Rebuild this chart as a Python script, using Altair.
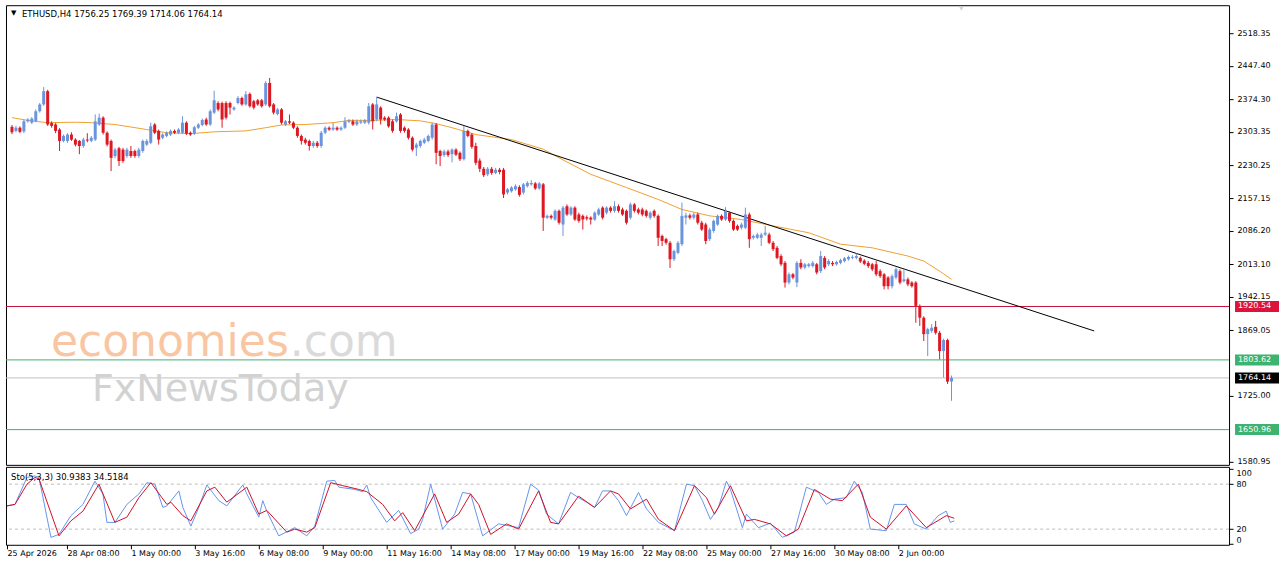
import altair as alt
import pandas as pd

# ---------------- data ----------------
opens = [
 2314,2305,2312,2304,2326,2323,2326,2348,2363,2392,
 2322,2319,2308,2283,2283,2297,2286,2283,2272,2286,
 2283,2286,2319,2334,2301,2283,2250,2267,2264,2250,
 2261,2261,2250,2261,2275,2279,2319,2305,2290,2294,
 2297,2305,2301,2301,2323,2301,2299,2312,2318,2330,
 2319,2345,2366,2366,2366,2366,2352,2366,2377,2363,
 2386,2370,2372,2372,2363,2410,2363,2342,2352,2319,
 2326,2323,2312,2294,2286,2283,2272,2279,2272,2301,
 2312,2308,2312,2308,2312,2325,2326,2319,2323,2323,
 2323,2363,2330,2356,2334,2334,2326,2326,2341,2312,
 2308,2290,2268,2272,2279,2283,2290,2319,2261,2252,
 2260,2254,2264,2257,2243,2305,2297,2272,2240,2222,
 2210,2222,2213,2220,2220,2170,2173,2177,2182,2170,
 2184,2188,2190,2179,2188,2115,2119,2111,2130,2100,
 2140,2122,2137,2122,2119,2116,2115,2111,2122,2137,
 2126,2137,2130,2140,2133,2130,2115,2144,2133,2133,
 2130,2115,2130,2119,2075,2068,2060,2024,2038,2057,
 2115,2120,2115,2122,2104,2100,2068,2086,2100,2119,
 2111,2126,2108,2097,2093,2093,2122,2071,2071,2071,
 2078,2078,2060,2049,2031,2016,1973,1991,1973,2016,
 2006,2009,2009,2013,1998,2027,2013,2016,2013,2016,
 2020,2024,2027,2027,2027,2021,2016,2013,2013,1998,
 1991,1984,1965,1984,1998,1976,1980,1973,1973,1922,
 1896,1860,1867,1876,1863,1823,1847,1756.25]
highs = [
 2318,2316,2315,2330,2333,2335,2352,2366,2401,2395,
 2326,2322,2311,2297,2300,2302,2289,2285,2290,2300,
 2294,2341,2343,2337,2304,2286,2268,2270,2268,2268,
 2272,2264,2268,2286,2287,2323,2322,2308,2300,2304,
 2308,2308,2311,2337,2326,2304,2316,2322,2332,2334,
 2352,2393,2370,2369,2370,2369,2359,2381,2380,2392,
 2389,2373,2375,2375,2414,2421,2366,2355,2355,2329,
 2341,2326,2315,2297,2290,2286,2283,2283,2305,2315,
 2315,2323,2315,2315,2335,2331,2330,2330,2330,2331,
 2366,2366,2379,2359,2337,2337,2330,2345,2344,2315,
 2311,2293,2279,2286,2290,2297,2323,2322,2264,2264,
 2264,2267,2267,2260,2316,2308,2300,2279,2245,2226,
 2226,2226,2224,2224,2224,2180,2184,2188,2186,2191,
 2195,2197,2193,2193,2191,2122,2122,2133,2133,2141,
 2144,2140,2140,2126,2122,2120,2118,2129,2137,2140,
 2140,2140,2151,2144,2137,2133,2148,2147,2137,2137,
 2133,2129,2133,2122,2078,2071,2064,2045,2064,2148,
 2126,2124,2126,2126,2108,2104,2093,2111,2122,2122,
 2138,2129,2111,2100,2104,2137,2126,2078,2082,2082,
 2097,2082,2064,2053,2035,2020,1995,1994,2020,2024,
 2016,2016,2020,2016,2042,2031,2024,2020,2021,2025,
 2029,2032,2033,2037,2030,2024,2020,2016,2020,2002,
 1994,1987,1991,2006,2002,2002,1984,1976,1976,1925,
 1899,1874,1882,1889,1867,1850,1850,1769.39]
lows = [
 2298,2302,2300,2300,2323,2320,2324,2345,2360,2316,
 2312,2300,2261,2280,2279,2283,2271,2254,2268,2280,
 2280,2283,2316,2297,2271,2217,2245,2228,2235,2246,
 2246,2246,2246,2257,2272,2276,2298,2275,2287,2291,
 2294,2298,2298,2298,2296,2294,2296,2309,2315,2316,
 2316,2342,2348,2312,2330,2341,2349,2363,2360,2360,
 2356,2352,2360,2356,2360,2356,2341,2339,2319,2316,
 2320,2309,2290,2275,2275,2262,2268,2268,2268,2298,
 2305,2305,2305,2305,2309,2322,2316,2316,2320,2320,
 2319,2308,2326,2319,2327,2312,2301,2323,2301,2301,
 2286,2260,2250,2268,2276,2280,2286,2232,2228,2248,
 2248,2236,2250,2239,2240,2291,2266,2230,2215,2204,
 2206,2209,2210,2210,2158,2166,2170,2174,2161,2166,
 2181,2185,2176,2176,2086,2112,2111,2108,2100,2075,
 2119,2119,2108,2104,2089,2109,2100,2108,2119,2111,
 2122,2126,2126,2126,2119,2100,2111,2126,2122,2118,
 2115,2111,2115,2053,2053,2056,2005,2020,2035,2053,
 2100,2111,2111,2100,2086,2057,2064,2082,2097,2108,
 2108,2104,2086,2086,2089,2090,2049,2067,2068,2053,
 2075,2057,2042,2024,2009,1962,1969,1980,1963,2002,
 2002,2006,2006,1991,1994,2002,2009,2009,2010,2013,
 2017,2021,2024,2024,2016,2011,2005,1998,1987,1983,
 1958,1958,1960,1980,1969,1973,1965,1962,1885,1878,
 1845,1812,1863,1859,1805,1765,1751,1714.06]
closes = [
 2302,2312,2303,2326,2330,2332,2348,2363,2392,2319,
 2316,2305,2283,2294,2297,2286,2275,2272,2286,2284,
 2290,2326,2334,2301,2275,2246,2264,2239,2239,2264,
 2250,2250,2264,2283,2283,2315,2301,2286,2297,2301,
 2305,2301,2308,2323,2299,2297,2313,2319,2329,2319,
 2348,2372,2352,2330,2334,2356,2356,2377,2363,2385,
 2359,2356,2363,2359,2410,2359,2345,2352,2323,2326,
 2323,2312,2294,2283,2279,2272,2279,2272,2301,2312,
 2308,2312,2308,2312,2326,2328,2319,2326,2326,2328,
 2359,2326,2363,2330,2330,2315,2305,2337,2305,2305,
 2290,2264,2275,2283,2286,2294,2319,2257,2250,2260,
 2252,2264,2253,2243,2305,2294,2270,2235,2222,2208,
 2222,2213,2220,2215,2166,2177,2181,2184,2165,2188,
 2191,2191,2179,2190,2115,2119,2115,2130,2104,2137,
 2122,2137,2111,2108,2111,2113,2111,2126,2133,2115,
 2137,2130,2140,2130,2122,2104,2144,2130,2126,2122,
 2119,2126,2119,2071,2064,2060,2024,2042,2060,2119,
 2120,2115,2122,2104,2089,2064,2089,2108,2119,2111,
 2130,2108,2089,2089,2100,2122,2068,2075,2078,2078,
 2082,2060,2046,2027,2013,1973,1991,1984,2016,2006,
 2013,2013,2016,1995,2031,2006,2020,2013,2018,2022,
 2026,2029,2029,2031,2019,2014,2009,2002,1991,1987,
 1965,1965,1987,2002,1973,1980,1969,1965,1922,1896,
 1860,1871,1874,1863,1823,1847,1756,1764.14]

# 50-period moving average, read at points along the orange line
ma_idx = [0, 4, 9, 16, 20, 26, 34, 39, 45, 51, 59, 64, 68, 74, 81, 85, 91, 97, 103,
          107, 111, 117, 126, 134, 138, 146, 155, 163, 169, 176, 184, 192, 201, 209,
          217, 226, 230, 234, 237]
ma_val = [2334, 2328, 2323, 2324, 2323, 2319, 2308, 2301, 2299, 2303, 2305, 2312, 2318,
          2319, 2323, 2328, 2328, 2330, 2327, 2321, 2312, 2297, 2286, 2265, 2246, 2210,
          2181, 2155, 2133, 2119, 2111, 2097, 2082, 2057, 2049, 2031, 2020, 1998, 1980]

# Stochastic (5,3,3): %K (blue) and %D (red), read at turning points
k_idx = [0, 2, 5, 7, 8, 11, 13, 16, 19, 22, 24, 25, 27, 30, 33, 35, 37, 39, 40, 43, 44,
         46, 48, 50, 53, 55, 59, 60, 63, 64, 65, 68, 72, 75, 77, 80, 82, 83, 87, 89, 90,
         91, 95, 98, 101, 103, 104, 106, 109, 112, 114, 116, 119, 123, 128, 131, 133,
         135, 138, 141, 143, 145, 147, 149, 151, 153, 155, 158, 160, 163, 167, 170, 172,
         174, 176, 178, 180, 181, 184, 185, 188, 191, 194, 197, 200, 203, 205, 207, 210,
         212, 214, 216, 220, 222, 225, 227, 230, 233, 235, 236, 237]
k_val = [51, 53, 89, 91, 89, 9, 13, 38, 53, 84, 67, 29, 29, 53, 67, 82, 80, 49, 51, 71, 49,
         24, 49, 79, 58, 51, 79, 67, 36, 58, 44, 11, 22, 11, 24, 84, 85, 76, 73, 70, 79,
         62, 29, 45, 14, 20, 33, 80, 20, 40, 69, 67, 11, 27, 22, 80, 72,
         40, 27, 69, 62, 56, 49, 71, 71, 58, 38, 69, 47, 29, 18, 80, 78,
         58, 33, 49, 84, 73, 22, 40, 22, 28, 9, 16, 76, 69, 53, 60, 62,
         84, 69, 20, 18, 53, 53, 27, 20, 38, 44, 29, 30.9383]
d_idx = [0, 2, 5, 7, 8, 13, 16, 19, 23, 27, 30, 33, 36, 40, 41, 44, 46, 50, 52, 55, 60,
         63, 65, 70, 72, 75, 77, 81, 84, 88, 90, 94, 97, 99, 102, 107, 110, 113, 116, 118,
         121, 125, 128, 133, 136, 138, 143, 147, 151, 153, 156, 160, 163, 167, 172, 175,
         177, 181, 185, 187, 191, 195, 198, 202, 206, 209, 213, 216, 220, 225, 230, 235,
         237]
d_val = [51, 53, 80, 89, 87, 11, 31, 44, 80, 29, 36, 62, 82, 53, 56, 38, 31, 71, 76, 56, 76,
         40, 45, 16, 20, 16, 22, 82, 78, 73, 70, 53, 31, 42, 18, 67, 29, 40, 67, 53,
         13, 27, 20, 71, 29, 27, 64, 49, 71, 67, 47, 60, 33, 18, 78, 62,
         40, 78, 31, 33, 27, 11, 20, 73, 60, 58, 80, 36, 20, 51, 22, 38,
         34.5184]

trend_idx = [92, 273]
trend_val = [2379, 1867]

level_vals = [1920.54, 1803.62, 1764.14, 1650.96]
level_line_colors = ["#C8143C", "#3CB371", "#C0C0C0", "#3CB371"]
level_box_colors = ["#DC143C", "#3CB371", "#000000", "#3CB371"]
level_labels = ["1920.54", "1803.62", "1764.14", "1650.96"]

price_ticks = [2518.35, 2447.40, 2374.30, 2303.35, 2230.25, 2157.15, 2086.20, 2013.10,
               1942.15, 1869.05, 1725.00, 1580.95]
time_ticks = [0, 15, 31, 47, 63, 79, 95, 111, 127, 143, 159, 175, 191, 207, 223]
time_labels = ["25 Apr 2026", "28 Apr 08:00", "1 May 00:00", "3 May 16:00", "6 May 08:00",
               "9 May 00:00", "11 May 16:00", "14 May 08:00", "17 May 00:00", "19 May 16:00",
               "22 May 08:00", "25 May 00:00", "27 May 16:00", "30 May 08:00", "2 Jun 00:00"]
sto_ticks = [0, 20, 80, 100]

header_main = "ETHUSD,H4  1756.25 1769.39 1714.06 1764.14"
header_sto = "Sto(5,3,3) 30.9383 34.5184"

# ---------------- styling ----------------
FONT = "DejaVu Sans"
BLUE = "#6A95DE"
RED = "#DD1822"
W, H, H2 = 1224, 460, 78

xs = alt.Scale(domain=[-0.25, 305.75], nice=False, zero=False)
ys = alt.Scale(domain=[1573.8, 2580.2], nice=False, zero=False)
ss = alt.Scale(domain=[-0.9, 103.1], nice=False, zero=False)

yaxis = alt.Axis(orient="right", values=price_ticks, format=".2f", tickSize=4,
                 labelPadding=4, domain=False, grid=False, title=None,
                 labelFlush=False, labelOverlap=False)
noX = alt.X("i:Q", scale=xs, axis=None)

candles = pd.DataFrame({"i": list(range(len(closes))), "open": opens, "high": highs,
                        "low": lows, "close": closes})
candles["col"] = [BLUE if c >= o else RED for o, c in zip(opens, closes)]

def Y(field):
    return alt.Y(field, scale=ys, axis=yaxis)

wicks = alt.Chart(candles).mark_rule(strokeWidth=1).encode(
    x=noX, y=Y("low:Q"), y2="high:Q", color=alt.Color("col:N", scale=None))
bodies = alt.Chart(candles).mark_bar(size=3).encode(
    x=noX, y=Y("open:Q"), y2="close:Q", color=alt.Color("col:N", scale=None))

ma_df = pd.DataFrame({"i": ma_idx, "v": ma_val})
ma_line = alt.Chart(ma_df).mark_line(color="#F0A030", strokeWidth=1).encode(x=noX, y=Y("v:Q"))

tr_df = pd.DataFrame({"i": trend_idx, "v": trend_val})
tr_line = alt.Chart(tr_df).mark_line(color="black", strokeWidth=1).encode(x=noX, y=Y("v:Q"))

lv_df = pd.DataFrame({"v": level_vals, "lc": level_line_colors, "bc": level_box_colors,
                      "t": level_labels})
lv_rules = alt.Chart(lv_df).mark_rule(strokeWidth=1).encode(
    y=Y("v:Q"), color=alt.Color("lc:N", scale=None))
box_shape = "M-3.667,-0.917H3.667V0.917H-3.667Z"
lv_boxes = alt.Chart(lv_df).mark_point(shape=box_shape, filled=True, size=144, opacity=1,
                                       strokeWidth=0).encode(
    x=alt.value(1252), y=Y("v:Q"), color=alt.Color("bc:N", scale=None))
lv_text = alt.Chart(lv_df).mark_text(align="left", baseline="middle", font=FONT, fontSize=8,
                                     color="white").encode(
    x=alt.value(1233), y=Y("v:Q"), text="t:N")

wm_df = pd.DataFrame({"t1": ["economies"], "t2": [".com"], "t3": ["FxNewsToday"]})
wm1 = alt.Chart(wm_df).mark_text(align="left", baseline="alphabetic", font=FONT, fontSize=44,
                                 color="#F8C6A2").encode(x=alt.value(45), y=alt.value(351), text="t1:N")
wm2 = alt.Chart(wm_df).mark_text(align="left", baseline="alphabetic", font=FONT, fontSize=44,
                                 color="#DADADA").encode(x=alt.value(284), y=alt.value(351), text="t2:N")
wm3 = alt.Chart(wm_df).mark_text(align="left", baseline="alphabetic", font=FONT, fontSize=38,
                                 color="#D2D2D2").encode(x=alt.value(86), y=alt.value(396), text="t3:N")

hd_df = pd.DataFrame({"t": [header_main], "a": ["\u25BC"]})
hd_tri = alt.Chart(hd_df).mark_text(align="left", baseline="middle", font=FONT, fontSize=7,
                                    color="black").encode(x=alt.value(5), y=alt.value(8), text="a:N")
hd_txt = alt.Chart(hd_df).mark_text(align="left", baseline="middle", font=FONT, fontSize=8.5,
                                    color="black").encode(x=alt.value(16), y=alt.value(8.5), text="t:N")
shift_mark = alt.Chart(hd_df).mark_text(align="center", baseline="top", font=FONT, fontSize=6,
                                        color="#D0D0D0").encode(x=alt.value(956), y=alt.value(0), text="a:N")

main = alt.layer(lv_rules, wm1, wm2, wm3, ma_line, tr_line, wicks, bodies, lv_boxes, lv_text,
                 hd_tri, hd_txt, shift_mark).properties(width=W, height=H)

# ---------------- stochastic panel ----------------
label_expr = ("[" + ",".join("'%s'" % t for t in time_labels) + "][indexof(["
              + ",".join(str(v) for v in time_ticks) + "], datum.value)]")
xaxis = alt.Axis(values=time_ticks, labelExpr=label_expr, labelAlign="left", tickSize=4,
                 labelPadding=1, domain=False, grid=False, title=None, labelFlush=False,
                 labelOverlap=False)
saxis = alt.Axis(orient="right", values=sto_ticks, tickSize=4, labelPadding=3, domain=False,
                 grid=False, title=None, labelFlush=False, labelOverlap=False,
                 labelBaseline={"condition": [{"test": "datum.value >= 100", "value": "top"},
                                              {"test": "datum.value <= 0", "value": "bottom"}],
                                "value": "middle"})
SX = alt.X("i:Q", scale=xs, axis=xaxis)

def SY(field):
    return alt.Y(field, scale=ss, axis=saxis)

sl_df = pd.DataFrame({"v": [20, 80]})
s_rules = alt.Chart(sl_df).mark_rule(strokeDash=[3, 3], color="#BDBDBD", strokeWidth=1).encode(
    y=SY("v:Q"))
k_df = pd.DataFrame({"i": k_idx, "v": k_val})
d_df = pd.DataFrame({"i": d_idx, "v": d_val})
k_line = alt.Chart(k_df).mark_line(color="#6495ED", strokeWidth=1).encode(x=SX, y=SY("v:Q"))
d_line = alt.Chart(d_df).mark_line(color="#D0102A", strokeWidth=1).encode(x=SX, y=SY("v:Q"))
s_hd = alt.Chart(pd.DataFrame({"t": [header_sto]})).mark_text(
    align="left", baseline="middle", font=FONT, fontSize=8.5, color="black").encode(
    x=alt.value(5), y=alt.value(10), text="t:N")

sto = alt.layer(s_rules, k_line, d_line, s_hd).properties(width=W, height=H2)

chart = alt.vconcat(main, sto, spacing=2, bounds="flush").properties(
    padding={"left": 4, "top": 4, "right": 0, "bottom": 0}, background="white"
).configure_view(stroke="black", strokeWidth=1).configure_axis(
    labelFont=FONT, labelFontSize=8, labelColor="black", tickColor="black", tickWidth=1)

chart.save("out.html", embed_options={"renderer": "svg", "actions": False})
